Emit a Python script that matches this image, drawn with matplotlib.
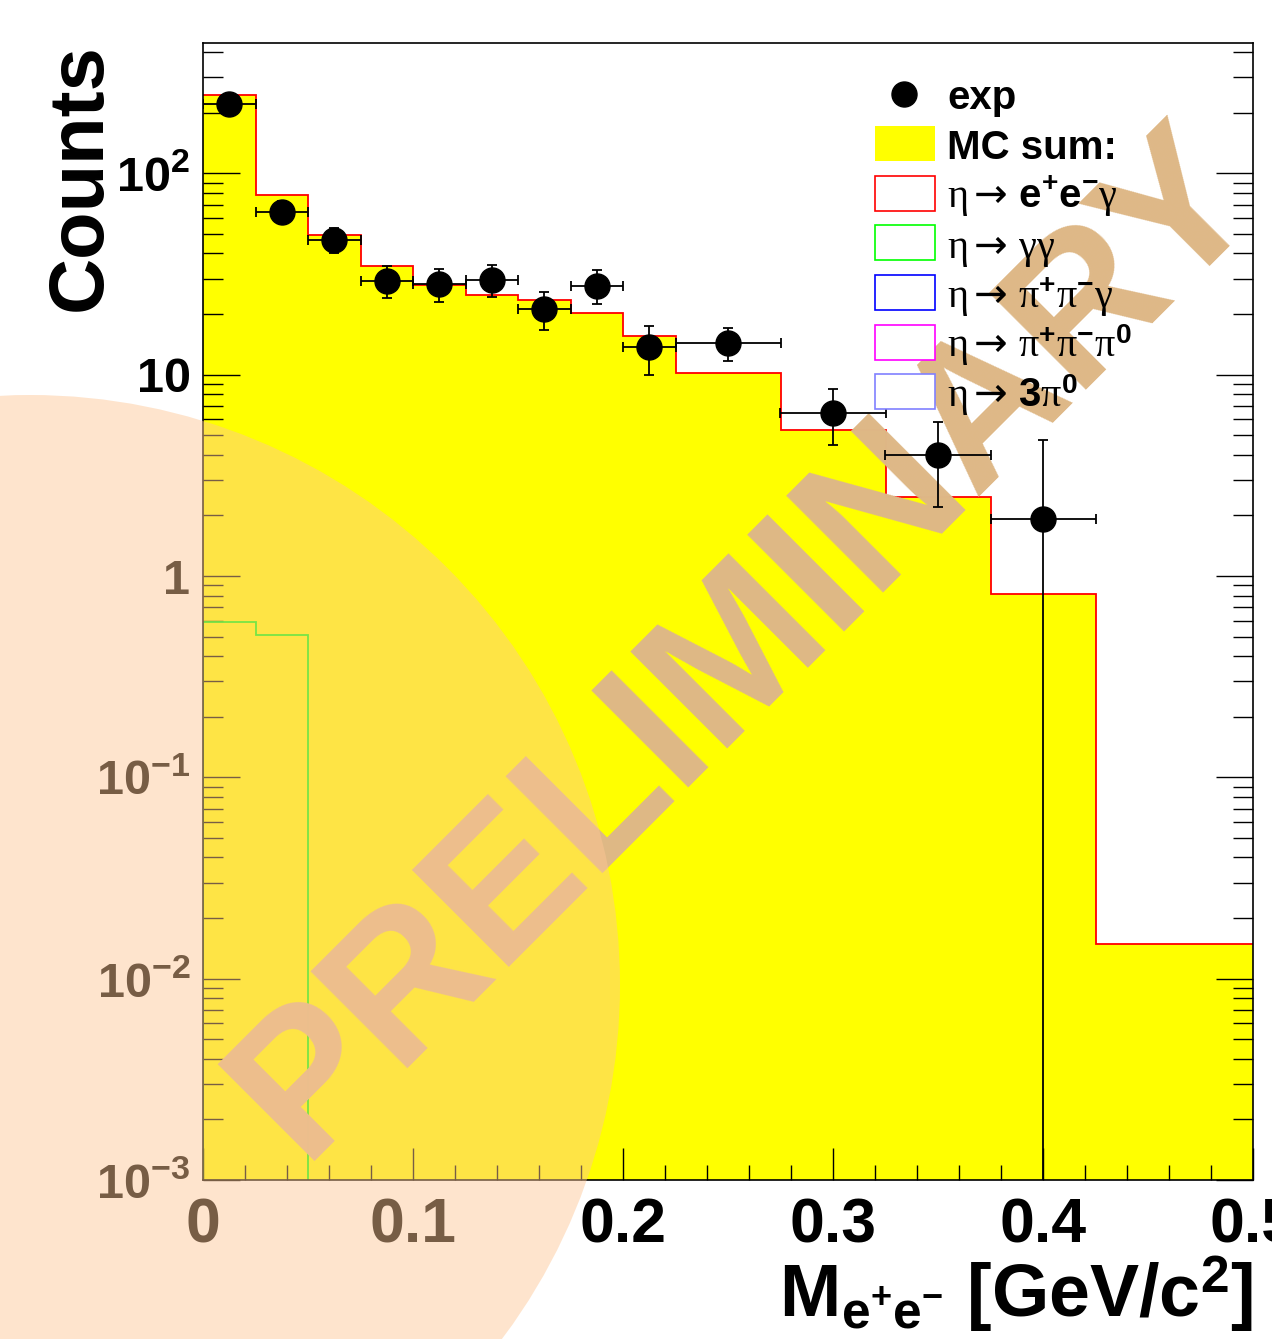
import numpy as np
import matplotlib
matplotlib.use('Agg')
import matplotlib.pyplot as plt
from matplotlib.patches import Rectangle, Ellipse
from matplotlib.lines import Line2D
from matplotlib.ticker import MultipleLocator, LogLocator, FuncFormatter, NullFormatter

#### data

edges = [0, 0.025, 0.05, 0.075, 0.1, 0.125, 0.15, 0.175, 0.2, 0.225, 0.275, 0.325, 0.375, 0.425, 0.5]
mc_sum = [245, 78, 49.5, 34.5, 28.0, 24.9, 23.4, 20.2, 15.5, 10.2, 5.33, 2.47, 0.81, 0.0148]
eeg = mc_sum  # eta -> e+e-gamma dominates the sum
gg_edges = [0, 0.025, 0.05]
gg = [0.594, 0.507]

exp_x = [0.0125, 0.0375, 0.0625, 0.0875, 0.1125, 0.1375, 0.1625, 0.1875, 0.2125, 0.25, 0.3, 0.35, 0.4]
exp_y = [221, 64.5, 46.8, 29.3, 28.2, 29.6, 21.2, 27.7, 13.7, 14.4, 6.46, 4.01, 1.93]
exp_xerr = [0.0125, 0.0125, 0.0125, 0.0125, 0.0125, 0.0125, 0.0125, 0.0125, 0.0125, 0.025, 0.025, 0.025, 0.025]
exp_yerr = [14.9, 8.0, 6.8, 5.4, 5.3, 5.4, 4.6, 5.3, 3.7, 2.7, 2.0, 1.8, 2.8]

arrow = r'\mathrm{\eta}\mathcal{\rightarrow}\,'
leg_labels = ['exp', 'MC sum:',
              r'$' + arrow + r'\mathbf{e^{+}e^{-}}\mathrm{\gamma}$',
              r'$' + arrow + r'\mathrm{\gamma\gamma}$',
              r'$' + arrow + r'\mathrm{\pi}^{\mathbf{+}}\mathrm{\pi}^{\mathbf{-}}\mathrm{\gamma}$',
              r'$' + arrow + r'\mathrm{\pi}^{\mathbf{+}}\mathrm{\pi}^{\mathbf{-}}\mathrm{\pi}^{\mathbf{0}}$',
              r'$' + arrow + r'\mathbf{3}\mathrm{\pi}^{\mathbf{0}}$']
leg_edge = [None, '#ffff00', '#ff0000', '#00ff00', '#0000ff', '#ff00ff', '#8080ff']

#### style

plt.rcParams['font.family'] = 'Liberation Sans'
plt.rcParams['font.weight'] = 'bold'
plt.rcParams['axes.labelweight'] = 'bold'
plt.rcParams['mathtext.fontset'] = 'custom'
plt.rcParams['mathtext.rm'] = 'Liberation Serif:weight=normal:style=normal'
plt.rcParams['mathtext.it'] = 'Liberation Serif:weight=normal:style=italic'
plt.rcParams['mathtext.bf'] = 'Liberation Sans:weight=bold'
plt.rcParams['mathtext.sf'] = 'Liberation Sans:weight=bold'
plt.rcParams['mathtext.cal'] = 'DejaVu Sans:weight=normal'

fig = plt.figure(figsize=(12.72, 13.39), dpi=100)
ax = fig.add_axes([203/1272, 159/1339, 1050/1272, 1137/1339])

ax.stairs(mc_sum, edges, fill=True, color='#ffff00', baseline=1e-6, zorder=1)
ax.stairs(eeg, edges, fill=False, color='#ff0000', lw=1.3, baseline=None, zorder=1.5)
ax.stairs(gg, gg_edges, fill=False, color='#00ff00', lw=1.3, baseline=1e-6, zorder=1.6)

ax.text(0.517, 0.472, 'PRELIMINARY', transform=ax.transAxes, fontsize=143, fontweight='bold',
        color='#deb887', rotation=45, rotation_mode='anchor', ha='center', va='center', zorder=2)

ax.errorbar(exp_x, exp_y, xerr=exp_xerr, yerr=exp_yerr, fmt='o', color='black', ms=18,
            elinewidth=1.3, capsize=3.5, capthick=1.3, zorder=3)

ax.set_yscale('log')
ax.set_xlim(0, 0.5)
ax.set_ylim(1e-3, 444)

ax.xaxis.set_major_locator(MultipleLocator(0.1))
ax.xaxis.set_minor_locator(MultipleLocator(0.02))
ax.xaxis.set_major_formatter(FuncFormatter(lambda v, p: '0' if abs(v) < 1e-9 else f'{v:.1f}'))

def yfmt(v, p):
    e = int(round(np.log10(v)))
    if e == 0:
        return '1'
    if e == 1:
        return '10'
    return r'$\mathbf{10^{%d}}$' % e

ax.yaxis.set_major_locator(LogLocator(base=10, numticks=20))
ax.yaxis.set_minor_locator(LogLocator(base=10, subs=np.arange(2, 10), numticks=20))
ax.yaxis.set_major_formatter(FuncFormatter(yfmt))
ax.yaxis.set_minor_formatter(NullFormatter())

ax.tick_params(axis='x', which='major', direction='in', length=23, width=1, top=False, labelsize=45, pad=12)
ax.tick_params(axis='x', which='minor', direction='in', length=11, width=1, top=False)
ax.tick_params(axis='y', which='major', direction='in', length=26.6, width=1, left=True, right=True, labelsize=35, pad=9)
ax.tick_params(axis='y', which='minor', direction='in', length=14.4, width=1, left=True, right=True)
for sp in ax.spines.values():
    sp.set_linewidth(1.2)

ax.set_xlabel(r'$\mathbf{M_{e^{+}e^{-}}}$ [GeV/c$^{\mathbf{2}}$]', fontsize=53, fontweight='bold', loc='right')
ax.xaxis.set_label_coords(1.0, -0.066)
ax.set_ylabel('Counts', fontsize=56, fontweight='bold', loc='top')
ax.yaxis.set_label_coords(-0.082, 1.0)

# ROOT-like legend, rows at fixed spacing
top = 0.9553
step = 0.0437
for i, (lab, ec) in enumerate(zip(leg_labels, leg_edge)):
    yc = top - i*step
    if i == 0:
        ax.add_line(Line2D([0.668], [yc], marker='o', ms=18, color='black', transform=ax.transAxes, zorder=4))
    elif i == 1:
        ax.add_patch(Rectangle((0.64, yc - 0.0154), 0.0571, 0.0308, transform=ax.transAxes,
                               facecolor='#ffff00', edgecolor='none', zorder=4))
    else:
        ax.add_patch(Rectangle((0.64, yc - 0.0154), 0.0571, 0.0308, transform=ax.transAxes,
                               facecolor='white', edgecolor=ec, lw=1.2, zorder=4))
    ax.text(0.7086, yc - 0.0132, lab, transform=ax.transAxes, fontsize=29, fontweight='bold',
            ha='left', va='baseline', zorder=4)

# translucent disc over the lower left corner
fig.add_artist(Ellipse((30/1272, 354/1339), 2*590/1272, 2*590/1339, transform=fig.transFigure,
                       facecolor=(254/255, 198/255, 149/255), edgecolor='none', alpha=0.47, zorder=10))

fig.savefig('out.png', dpi=100)
